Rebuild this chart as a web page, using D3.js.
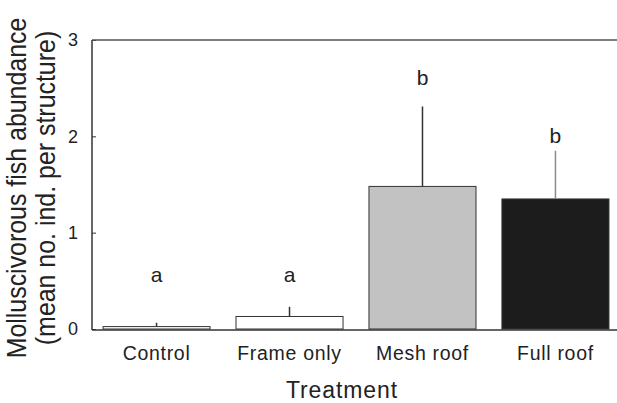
<!DOCTYPE html>
<html lang="en">
  <head>
    <meta charset="utf-8" />
    <title>Molluscivorous fish abundance</title>
    <script src="https://d3js.org/d3.v7.min.js"></script>
    <style>
      body { margin: 0; background: #fff; }
      text { font-family: "Liberation Sans", Arial, Helvetica, sans-serif; fill: #222; }
    </style>
  </head>
  <body>
    <script>
      // data
      var treatments = ["Control", "Frame only", "Mesh roof", "Full roof"];
      var means = [0.025, 0.13, 1.48, 1.35];
      var errors = [0.04, 0.10, 0.83, 0.50];
      var letters = ["a", "a", "b", "b"];
      var letterY = [0.49, 0.49, 2.53, 1.93];
      var yTicks = [0, 1, 2, 3];

      var fills = ["#ffffff", "#ffffff", "#c2c2c2", "#1c1c1c"];
      var errColors = ["#333", "#333", "#333", "#8a8a8a"];

      var width = 617, height = 403;
      var plotLeft = 92, plotRight = 620, plotTop = 40, plotBottom = 329;

      var svg = d3.select("body").append("svg")
        .attr("width", width)
        .attr("height", height);

      var x = d3.scaleBand()
        .domain(treatments)
        .range([plotLeft, plotRight])
        .paddingInner(0.195)
        .paddingOuter(0.083);

      var y = d3.scaleLinear().domain([0, 3]).range([plotBottom, plotTop]);

      // bars
      svg.selectAll("rect.bar")
        .data(treatments)
        .enter()
        .append("rect")
        .attr("class", "bar")
        .attr("x", function (d) { return x(d); })
        .attr("width", x.bandwidth())
        .attr("y", function (d, i) { return y(means[i]); })
        .attr("height", function (d, i) { return y(0) - y(means[i]); })
        .style("fill", function (d, i) { return fills[i]; })
        .style("stroke", "#333")
        .style("stroke-width", 1);

      // error bars (upper only)
      svg.selectAll("line.err")
        .data(treatments)
        .enter()
        .append("line")
        .attr("class", "err")
        .attr("x1", function (d) { return x(d) + x.bandwidth() / 2; })
        .attr("x2", function (d) { return x(d) + x.bandwidth() / 2; })
        .attr("y1", function (d, i) { return y(means[i]); })
        .attr("y2", function (d, i) { return y(means[i] + errors[i]); })
        .style("stroke", function (d, i) { return errColors[i]; })
        .style("stroke-width", 1.5);

      // significance letters
      svg.selectAll("text.letter")
        .data(treatments)
        .enter()
        .append("text")
        .attr("class", "letter")
        .attr("x", function (d) { return x(d) + x.bandwidth() / 2; })
        .attr("y", function (d, i) { return y(letterY[i]); })
        .attr("text-anchor", "middle")
        .style("font-size", "21px")
        .text(function (d, i) { return letters[i]; });

      // y axis
      var yAxis = d3.axisLeft(y)
        .tickValues(yTicks)
        .tickFormat(d3.format("d"))
        .tickSize(-4)
        .tickPadding(14);
      var gy = svg.append("g")
        .attr("transform", "translate(" + plotLeft + ",0)")
        .call(yAxis);
      gy.select(".domain").remove();
      gy.selectAll("line").style("stroke", "#333");
      gy.selectAll("text")
        .style("font-size", "18px")
        .style("fill", "#222")
        .style("font-family", "'Liberation Sans', Arial, sans-serif");

      svg.append("line")
        .attr("x1", plotLeft).attr("x2", plotLeft)
        .attr("y1", plotTop).attr("y2", plotBottom + 1)
        .style("stroke", "#333").style("stroke-width", 1.5);
      svg.append("line")
        .attr("x1", plotLeft).attr("x2", width)
        .attr("y1", plotTop).attr("y2", plotTop)
        .style("stroke", "#555").style("stroke-width", 1.5);
      svg.append("line")
        .attr("x1", plotLeft).attr("x2", width)
        .attr("y1", plotBottom + 1).attr("y2", plotBottom + 1)
        .style("stroke", "#333").style("stroke-width", 1.5);

      // x labels
      svg.selectAll("text.cat")
        .data(treatments)
        .enter()
        .append("text")
        .attr("class", "cat")
        .attr("x", function (d) { return x(d) + x.bandwidth() / 2; })
        .attr("y", 360)
        .attr("text-anchor", "middle")
        .style("font-size", "19.5px")
        .style("letter-spacing", "0.7px")
        .text(function (d) { return d; });

      svg.append("text")
        .attr("x", 342)
        .attr("y", 398)
        .attr("text-anchor", "middle")
        .style("font-size", "23px")
        .style("letter-spacing", "0.9px")
        .text("Treatment");

      // y title (glyphs in the figure look narrow, so squeeze along the line)
      var title = svg.append("text")
        .attr("transform", "translate(0,188) rotate(-90) scale(0.89,1)")
        .attr("text-anchor", "middle")
        .style("font-size", "28px");
      title.append("tspan").attr("x", 0).attr("y", 26).text("Molluscivorous fish abundance");
      title.append("tspan").attr("x", 0).attr("y", 55).text("(mean no. ind. per structure)");
    </script>
  </body>
</html>
